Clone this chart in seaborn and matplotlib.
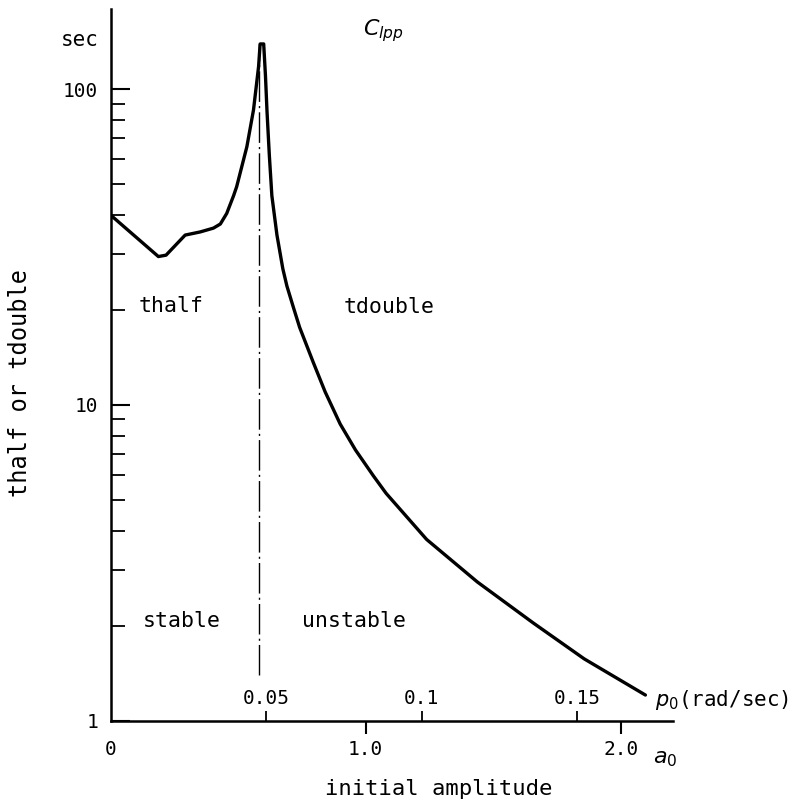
import numpy as np
import pandas as pd
import matplotlib
matplotlib.use("Agg")
import matplotlib.pyplot as plt
import matplotlib.ticker as mticker
from matplotlib.transforms import blended_transform_factory
import seaborn as sns

# ---- data ----
a0 = [0.000, 0.187, 0.217, 0.292, 0.351, 0.403, 0.430, 0.455, 0.482, 0.494,
      0.534, 0.560, 0.580, 0.586, 0.600, 0.607, 0.613, 0.622, 0.632, 0.652,
      0.675, 0.691, 0.717, 0.741, 0.795, 0.841, 0.900, 0.960, 1.031, 1.080,
      1.239, 1.438, 1.657, 1.857, 2.097]
t_sec = [39.9, 29.5, 29.8, 34.5, 35.3, 36.3, 37.4, 40.4, 46.0, 49.1,
         65.7, 85.9, 118.0, 139.0, 139.0, 110.0, 85.0, 62.0, 46.0, 34.5,
         27.0, 23.8, 20.3, 17.6, 13.6, 11.0, 8.7, 7.2, 5.95, 5.25,
         3.75, 2.75, 2.04, 1.57, 1.206]

boundary_a0 = [0.582, 0.582]
boundary_t = [1.4, 139.0]

a0_ticks = [0.0, 1.0, 2.0]
a0_ticklabels = ["0", "1.0", "2.0"]
p0_ticks = [0.05, 0.10, 0.15]
p0_ticklabels = ["0.05", "0.1", "0.15"]
P0_PER_A0 = 0.082
y_ticks = [1, 10, 100]
y_ticklabels = ["1", "10", "100"]

region_labels = ["thalf", "tdouble", "stable", "unstable"]
region_a0 = [0.237, 1.09, 0.28, 0.955]
region_t = [20.6, 20.4, 2.07, 2.07]

# ---- style ----
sns.set_style("ticks")
plt.rcParams["font.family"] = ["DejaVu Sans Mono", "DejaVu Sans"]
plt.rcParams["mathtext.fontset"] = "dejavusans"
plt.rcParams["text.color"] = "black"
plt.rcParams["axes.labelcolor"] = "black"

fig = plt.figure(figsize=(7.93, 8.06), dpi=100)
ax = fig.add_axes([0.1396, 0.1058, 0.709, 0.8827])

df = pd.DataFrame({"a0": a0, "t": t_sec})
sns.lineplot(data=df, x="a0", y="t", sort=False, estimator=None,
             color="black", lw=2.4, ax=ax)
ax.plot(boundary_a0, boundary_t, color="black", lw=1.0,
        linestyle=(0, (22, 3, 1.5, 3)))

ax.set_yscale("log")
ax.set_xlim(0, 2.205)
ax.set_ylim(1, 179)

for s in ["top", "right"]:
    ax.spines[s].set_visible(False)
for s in ["left", "bottom"]:
    ax.spines[s].set_linewidth(1.8)
    ax.spines[s].set_color("black")

# y ticks
ax.yaxis.set_major_locator(mticker.FixedLocator(y_ticks))
ax.yaxis.set_major_formatter(mticker.FixedFormatter(y_ticklabels))
ax.yaxis.set_minor_locator(mticker.LogLocator(base=10, subs=np.arange(2, 10)))
ax.yaxis.set_minor_formatter(mticker.NullFormatter())
ax.tick_params(axis="y", which="major", direction="in", length=14, width=1.5,
               pad=9, labelsize=14, colors="black")
ax.tick_params(axis="y", which="minor", direction="in", length=10, width=1.3,
               colors="black")

# x ticks (a0)
ax.set_xticks(a0_ticks, a0_ticklabels)
ax.tick_params(axis="x", which="major", direction="out", length=9, width=1.5,
               pad=5, labelsize=14, colors="black")
ax.xaxis.get_major_ticks()[0].tick1line.set_visible(False)

# secondary p0 scale along the bottom axis, labels inside
sec = ax.secondary_xaxis(0, functions=(lambda a: np.asarray(a) * P0_PER_A0,
                                       lambda p: np.asarray(p) / P0_PER_A0))
sec.set_ticks(p0_ticks, p0_ticklabels)
sec.xaxis.set_ticks_position("top")
sec.tick_params(axis="x", which="major", direction="out", length=7, width=1.3,
                pad=2, labelsize=14, top=True, labeltop=True,
                bottom=False, labelbottom=False, colors="black")
sec.tick_params(axis="x", which="minor", top=False, bottom=False)
for sp in sec.spines.values():
    sp.set_visible(False)

# labels
ax.set_xlabel("initial amplitude", fontsize=16)
ax.xaxis.set_label_coords(0.584, -0.082)
ax.set_ylabel("thalf or tdouble", fontsize=17)
ax.yaxis.set_label_coords(-0.14, 0.475)

tr_ay = blended_transform_factory(ax.transAxes, ax.transData)
tr_xa = blended_transform_factory(ax.transData, ax.transAxes)
ax.text(-0.022, 143, "sec", transform=tr_ay, ha="right", va="center",
        fontsize=15, clip_on=False)
ax.text(1.068, 153, r"$C_{lpp}$", ha="center", va="center", fontsize=16)
ax.text(2.136, 1.16, r"$p_0$(rad/sec)", ha="left", va="center",
        fontsize=15, clip_on=False)
ax.text(2.175, -0.054, r"$a_0$", transform=tr_xa, ha="center", va="center",
        fontsize=16, clip_on=False)

for lab, x, y in zip(region_labels, region_a0, region_t):
    ax.text(x, y, lab, ha="center", va="center", fontsize=15.5)

fig.savefig("out.png", dpi=100)
